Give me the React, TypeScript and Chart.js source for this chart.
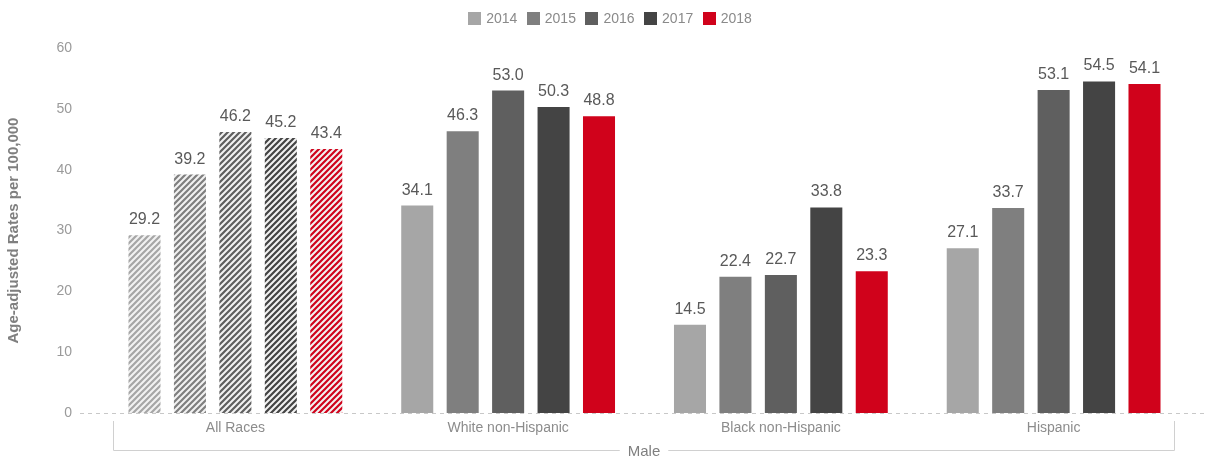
import React, { useEffect, useRef } from 'react';
import { Chart, registerables } from 'chart.js';
Chart.register(...registerables);

const categories = ['All Races', 'White non-Hispanic', 'Black non-Hispanic', 'Hispanic'];
const years = ['2014', '2015', '2016', '2017', '2018'];
const v2014 = [29.2, 34.1, 14.5, 27.1];
const v2015 = [39.2, 46.3, 22.4, 33.7];
const v2016 = [46.2, 53.0, 22.7, 53.1];
const v2017 = [45.2, 50.3, 33.8, 54.5];
const v2018 = [43.4, 48.8, 23.3, 54.1];
const seriesValues = [v2014, v2015, v2016, v2017, v2018];
const colors = ['#a6a6a6', '#7f7f7f', '#5f5f5f', '#444444', '#d0021b'];
const hatchedCategories = ['All Races'];
const groupLabel = 'Male';
const yTitle = 'Age-adjusted Rates per 100,000';
const yTicks = [0, 10, 20, 30, 40, 50, 60];

const FONT = '"Liberation Sans", Arial, Helvetica, sans-serif';

function makePattern(color: string): CanvasPattern | string {
  const s = 6;
  const c = document.createElement('canvas');
  c.width = s;
  c.height = s;
  const g = c.getContext('2d');
  if (!g) return color;
  g.fillStyle = '#f2f2f2';
  g.fillRect(0, 0, s, s);
  g.strokeStyle = color;
  g.lineWidth = 2.2;
  g.beginPath();
  g.moveTo(0, s);
  g.lineTo(s, 0);
  g.moveTo(-s / 2, s / 2);
  g.lineTo(s / 2, -s / 2);
  g.moveTo(s / 2, s + s / 2);
  g.lineTo(s + s / 2, s / 2);
  g.stroke();
  return g.createPattern(c, 'repeat') || color;
}

const extrasPlugin = {
  id: 'extras',
  beforeDatasetsDraw(chart: any) {
    const ctx = chart.ctx;
    const y0 = chart.scales.y.getPixelForValue(0);
    ctx.save();
    ctx.strokeStyle = '#c8c8c8';
    ctx.lineWidth = 1;
    ctx.setLineDash([4, 4]);
    ctx.beginPath();
    ctx.moveTo(80, Math.round(y0) + 0.5);
    ctx.lineTo(chart.width, Math.round(y0) + 0.5);
    ctx.stroke();
    ctx.restore();
  },
  afterDatasetsDraw(chart: any) {
    const ctx = chart.ctx;
    ctx.save();
    ctx.font = `16px ${FONT}`;
    ctx.fillStyle = '#595959';
    ctx.textAlign = 'center';
    ctx.textBaseline = 'alphabetic';
    chart.data.datasets.forEach((ds: any, di: number) => {
      const meta = chart.getDatasetMeta(di);
      meta.data.forEach((bar: any, i: number) => {
        ctx.fillText(Number(ds.data[i]).toFixed(1), bar.x, bar.y - 11);
      });
    });
    ctx.restore();
  },
  afterDraw(chart: any) {
    const ctx = chart.ctx;
    const area = chart.chartArea;
    const xs = chart.scales.x;
    // legend
    ctx.save();
    ctx.font = `14px ${FONT}`;
    const box = 13;
    const gapText = 5;
    const gapItem = 9.5;
    const widths = years.map((y) => box + gapText + ctx.measureText(y).width);
    const total = widths.reduce((a, b) => a + b, 0) + gapItem * (years.length - 1);
    let lx = 610 - total / 2;
    const ly = 12;
    ctx.textBaseline = 'middle';
    ctx.textAlign = 'left';
    years.forEach((yr, i) => {
      ctx.fillStyle = colors[i];
      ctx.fillRect(Math.round(lx), ly, box, box);
      ctx.fillStyle = '#8a8a8a';
      ctx.fillText(yr, lx + box + gapText, ly + box / 2 + 0.5);
      lx += widths[i] + gapItem;
    });
    ctx.restore();

    // group bracket
    const half = (xs.getPixelForValue(1) - xs.getPixelForValue(0)) / 2;
    const left = Math.round(xs.getPixelForValue(0) - half + 14) + 0.5;
    const right = Math.round(xs.getPixelForValue(categories.length - 1) + half - 16) + 0.5;
    const yTop = area.bottom + 8;
    const yLine = 450.5;
    const cx = (left + right) / 2;
    ctx.save();
    ctx.font = `15px ${FONT}`;
    const tw = ctx.measureText(groupLabel).width;
    ctx.strokeStyle = '#d0d0d0';
    ctx.lineWidth = 1;
    ctx.beginPath();
    ctx.moveTo(left, yTop);
    ctx.lineTo(left, yLine);
    ctx.lineTo(cx - tw / 2 - 8, yLine);
    ctx.moveTo(cx + tw / 2 + 8, yLine);
    ctx.lineTo(right, yLine);
    ctx.lineTo(right, yTop);
    ctx.stroke();
    ctx.fillStyle = '#7f7f7f';
    ctx.textAlign = 'center';
    ctx.textBaseline = 'middle';
    ctx.fillText(groupLabel, cx, yLine + 1);
    ctx.restore();
  },
};

export default function App() {
  const ref = useRef<HTMLCanvasElement | null>(null);
  useEffect(() => {
    document.body.style.margin = '0';
    const canvas = ref.current;
    if (!canvas) return;
    const datasets = years.map((yr, si) => {
      const pat = makePattern(colors[si]);
      return {
        label: yr,
        data: seriesValues[si],
        backgroundColor: (c: any) =>
          c.type === 'data' && hatchedCategories.includes(categories[c.dataIndex]) ? pat : colors[si],
        borderWidth: 0,
        categoryPercentage: 0.833,
        barPercentage: 0.705,
      };
    });
    const chart = new Chart(canvas, {
      type: 'bar',
      data: { labels: categories, datasets },
      plugins: [extrasPlugin],
      options: {
        responsive: false,
        maintainAspectRatio: false,
        animation: false,
        devicePixelRatio: 1,
        layout: { padding: { top: 48, right: 17, left: 0, bottom: 0 } },
        plugins: {
          legend: { display: false },
          tooltip: { enabled: false },
        },
        scales: {
          x: {
            grid: { display: false, drawTicks: false },
            border: { display: false },
            ticks: { color: '#8c8c8c', font: { family: FONT, size: 14 }, padding: 7, maxRotation: 0 },
            afterFit: (s: any) => {
              s.height = 49;
            },
          },
          y: {
            min: 0,
            max: 60,
            afterBuildTicks: (s: any) => {
              s.ticks = yTicks.map((v) => ({ value: v }));
            },
            grid: { display: false, drawTicks: false },
            border: { display: false },
            ticks: { color: '#9a9a9a', font: { family: FONT, size: 14 }, padding: 27 },
            title: {
              display: true,
              text: yTitle,
              color: '#7f7f7f',
              font: { family: FONT, size: 15, weight: 'bold' },
              padding: { top: 5, bottom: 0 },
            },
            afterFit: (s: any) => {
              s.width = 99;
            },
          },
        },
      } as any,
    });
    return () => chart.destroy();
  }, []);
  return (
    <div style={{ width: 1207, height: 462 }}>
      <canvas ref={ref} width={1207} height={462} style={{ display: 'block', width: 1207, height: 462 }} />
    </div>
  );
}
